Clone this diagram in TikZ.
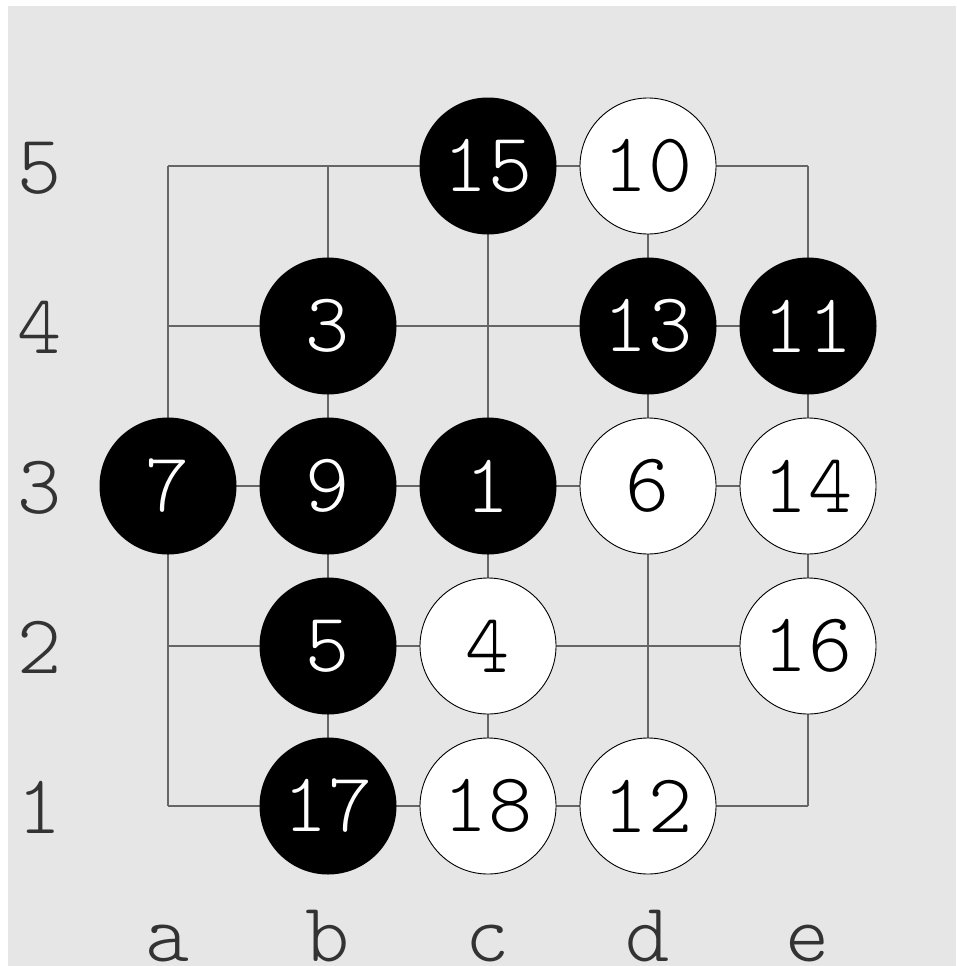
\documentclass[tikz,border=0pt]{standalone}
\definecolor{bgc}{HTML}{E6E6E6}
\definecolor{gridc}{HTML}{666666}
\definecolor{labc}{HTML}{333333}
\tikzset{
  stonefont/.style={font=\ttfamily\fontseries{l}\fontsize{84}{96}\selectfont},
  bstone/.style={circle, fill=black, text=white, minimum size=137pt, inner sep=0pt, stonefont},
  wstone/.style={circle, fill=white, draw=black, line width=0.9pt, text=black, minimum size=136pt, inner sep=0pt, stonefont},
  lab/.style={text=labc, anchor=base, inner sep=0pt, stonefont},
  gridline/.style={draw=gridc, line width=1.3pt}
}
\begin{document}
\begin{tikzpicture}[x=1pt,y=-1pt]
\useasboundingbox (0,0) rectangle (956,966);
\fill[bgc] (8,6) rectangle (956,966);
% grid
\foreach \i in {0,...,4} {
  \draw[gridline] (168+160*\i,166) -- (168+160*\i,806);
  \draw[gridline] (168,166+160*\i) -- (808,166+160*\i);
}
% row labels
\foreach \r [count=\k from 0] in {5,4,3,2,1} {
  \node[lab] (row\r) at (40,193+160*\k) {\r};
}
% column labels
\foreach \c [count=\k from 0] in {a,b,c,d,e} {
  \node[lab] (col\c) at (168+160*\k,961) {\c};
}
% black stones
\node[bstone] (s15) at (488,166) {15};
\node[bstone] (s3) at (328,326) {3};
\node[bstone] (s13) at (648,326) {13};
\node[bstone] (s11) at (808,326) {11};
\node[bstone] (s7) at (168,486) {7};
\node[bstone] (s9) at (328,486) {9};
\node[bstone] (s1) at (488,486) {1};
\node[bstone] (s5) at (328,646) {5};
\node[bstone] (s17) at (328,806) {17};
% white stones
\node[wstone] (s10) at (648,166) {10};
\node[wstone] (s6) at (648,486) {6};
\node[wstone] (s14) at (808,486) {14};
\node[wstone] (s4) at (488,646) {4};
\node[wstone] (s16) at (808,646) {16};
\node[wstone] (s18) at (488,806) {18};
\node[wstone] (s12) at (648,806) {12};
\end{tikzpicture}
\end{document}
